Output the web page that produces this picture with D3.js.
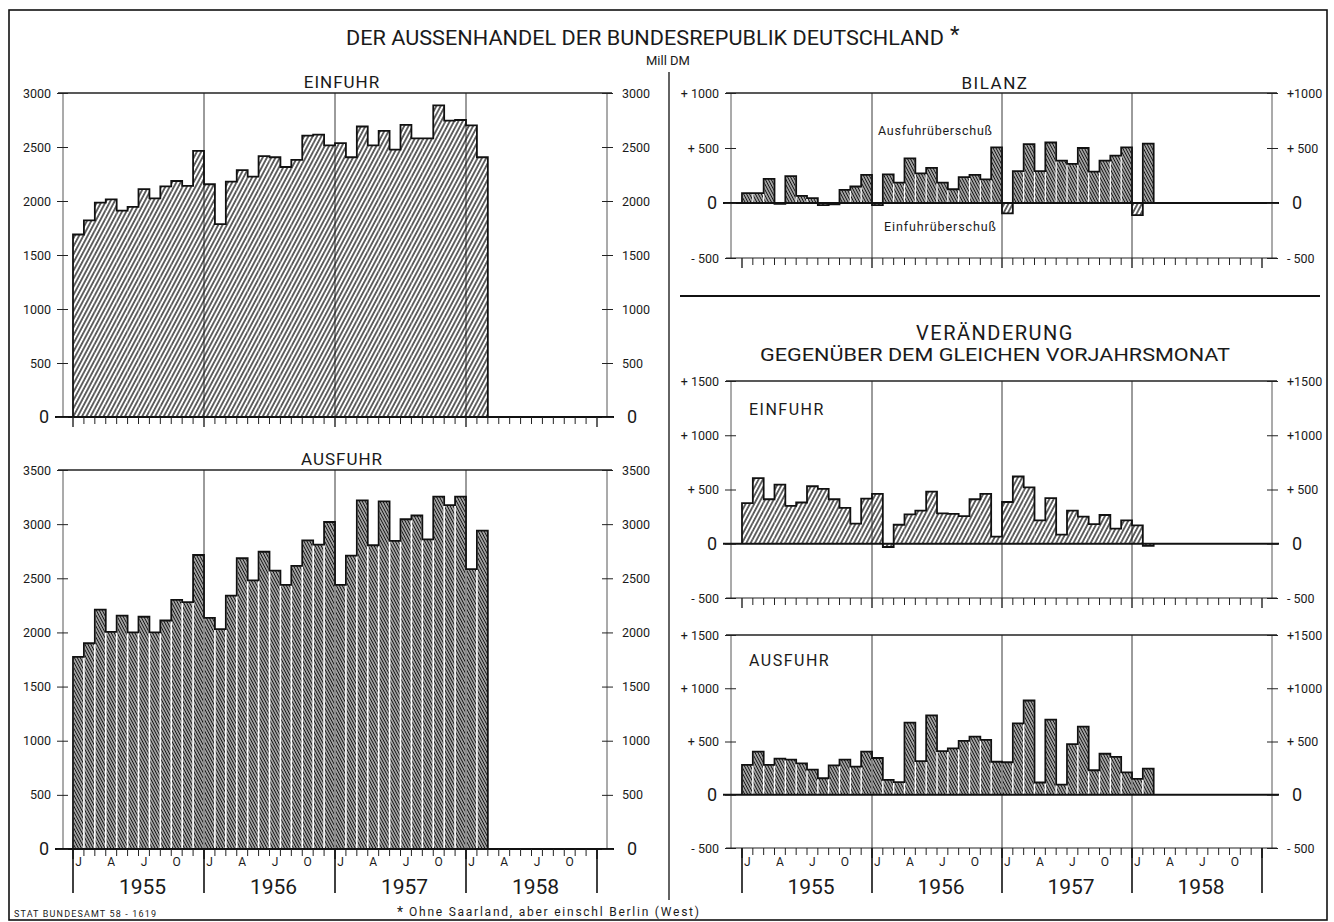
<!DOCTYPE html>
<meta charset="utf-8">
<head>
<script src="https://d3js.org/d3.v7.min.js"></script>
<style>
  body { margin: 0; background: #fff; }
  svg text { font-family: Roboto, "DejaVu Sans", sans-serif; fill: #1a1a1a; }
</style>
</head>
<body>
<svg id="chart" width="1334" height="922"></svg>
<script>
// Mill DM, monthly, Jan 1955 - Feb 1958
var years = ["1955", "1956", "1957", "1958"];
var monthLabels = ["J", "A", "J", "O"];

var einfuhr = [1690,1820,1985,2015,1910,1945,2110,2025,2135,2185,2140,2465,
               2155,1785,2180,2285,2225,2415,2405,2315,2380,2605,2615,2515,
               2535,2405,2690,2515,2650,2475,2705,2580,2580,2885,2745,2750,
               2700,2405];
var ausfuhr = [1775,1900,2210,2005,2155,2000,2145,2000,2110,2300,2280,2715,
               2135,2030,2340,2685,2480,2745,2570,2440,2615,2850,2810,3020,
               2440,2710,3220,2805,3210,2845,3045,3080,2860,3255,3175,3255,
               2585,2940];
var bilanz = [90,90,220,-8,245,65,45,-20,-12,120,150,255,
              -20,260,185,405,270,320,185,125,235,255,215,505,
              -95,290,535,290,550,385,355,500,285,385,430,505,
              -110,540];
var verEinfuhr = [375,605,410,545,350,380,530,505,410,330,185,415,
                  460,-30,175,270,305,480,280,275,255,410,460,65,
                  385,620,520,215,420,85,305,250,180,265,140,215,
                  170,-20];
var verAusfuhr = [280,405,280,340,330,295,235,155,275,330,265,405,
                  345,140,118,677,315,745,410,435,505,545,515,310,
                  305,670,885,115,705,95,475,640,230,385,355,210,
                  150,245];

var svg = d3.select("#chart");
var defs = svg.append("defs");

// hatch patterns
function hatch(id, angle, gap, w) {
  defs.append("pattern")
    .attr("id", id)
    .attr("patternUnits", "userSpaceOnUse")
    .attr("width", gap).attr("height", 10)
    .attr("patternTransform", "rotate(" + angle + ")")
    .append("line")
    .attr("x1", gap / 2).attr("x2", gap / 2)
    .attr("y1", 0).attr("y2", 10)
    .attr("stroke", "#111").attr("stroke-width", w);
}
hatch("light", 28, 3.8, 1.3);
hatch("dark", -28, 2.6, 1.55);

var fmtPlain = function(d) { return d3.format("d")(d); };
var fmtSignL = function(d) { return d > 0 ? "+ " + d : d < 0 ? "- " + (-d) : "0"; };
var fmtSignR = function(d) { return d >= 1000 ? "+" + d : d > 0 ? "+ " + d : d < 0 ? "- " + (-d) : "0"; };

function panel(o) {
  var g = svg.append("g");
  var x = d3.scaleLinear().domain([0, 48]).range([o.x0, o.x1]);
  var y = d3.scaleLinear().domain(o.domain).range([o.bottom, o.top]);
  var yb = y(o.domain[0]), yt = y(o.domain[1]), y0 = y(0);

  // year grid lines
  g.selectAll(".yr").data([12, 24, 36]).enter().append("line")
    .attr("x1", d => x(d)).attr("x2", d => x(d))
    .attr("y1", yt).attr("y2", yb)
    .attr("stroke", "#222").attr("stroke-width", 0.9);

  // left / right axis lines
  [o.axL, o.axR].forEach(function(ax) {
    g.append("line").attr("x1", ax).attr("x2", ax).attr("y1", yt).attr("y2", yb)
      .attr("stroke", "#444").attr("stroke-width", 0.9);
  });
  // top line
  g.append("line").attr("x1", o.axL - 5).attr("x2", o.axR + 5).attr("y1", yt).attr("y2", yt)
    .attr("stroke", "#222").attr("stroke-width", 1.3);
  // bottom line (if below zero)
  if (o.domain[0] < 0) {
    g.append("line").attr("x1", o.axL - 5).attr("x2", o.axR + 5).attr("y1", yb).attr("y2", yb)
      .attr("stroke", "#222").attr("stroke-width", 1.2);
  }

  // bars
  g.selectAll(".bar").data(o.values).enter().append("rect")
    .attr("x", (d, i) => x(i) + o.gap / 2)
    .attr("width", (d, i) => x(i + 1) - x(i) - o.gap)
    .attr("y", d => y(Math.max(0, d)))
    .attr("height", d => Math.abs(y(d) - y0))
    .attr("fill", d => "url(#" + o.fill(d) + ")");

  // step outline
  var pts = [[0, 0]].concat(o.values.map((d, i) => [i, d]));
  pts.push([o.values.length, o.values[o.values.length - 1]]);
  pts.push([o.values.length, 0]);
  g.append("path")
    .attr("d", d3.line().x(p => x(p[0])).y(p => y(p[1])).curve(d3.curveStepAfter)(pts))
    .attr("fill", "none").attr("stroke", "#111").attr("stroke-width", 1.8);

  // zero line
  g.append("line").attr("x1", o.axL - 8).attr("x2", o.axR + 7).attr("y1", y0).attr("y2", y0)
    .attr("stroke", "#111").attr("stroke-width", 2);

  // month ticks
  g.selectAll(".mt").data(d3.range(0, 49)).enter().append("line")
    .attr("x1", d => x(d)).attr("x2", d => x(d))
    .attr("y1", yb).attr("y2", d => d % 12 === 0 ? yb + 10 : yb + 7)
    .attr("stroke", "#222").attr("stroke-width", d => d % 12 === 0 ? 1.4 : 1);

  // value axes
  var left = g.append("g").attr("transform", "translate(" + o.axL + ",0)")
    .call(d3.axisLeft(y).tickValues(o.ticks).tickSize(6).tickPadding(6).tickFormat(o.fmtL));
  var right = g.append("g").attr("transform", "translate(" + o.axR + ",0)")
    .call(d3.axisRight(y).tickValues(o.ticks).tickSize(6).tickPadding(9).tickFormat(o.fmtR));
  [left, right].forEach(function(a, k) {
    a.select(".domain").remove();
    a.selectAll(".tick line").attr("x1", k ? -5 : 5).attr("stroke", "#222");
    a.selectAll("text").style("font-size", "12.5px").style("font-family", "Roboto, sans-serif")
      .attr("fill", "#1a1a1a");
    a.selectAll(".tick").filter(d => d === 0).select("text")
      .style("font-size", "18px").attr("x", k ? 20 : -14);
  });

  // month and year labels
  if (o.labels) {
    g.selectAll(".ys").data(d3.range(0, 49, 12)).enter().append("line")
      .attr("x1", d => x(d)).attr("x2", d => x(d))
      .attr("y1", yb).attr("y2", 893)
      .attr("stroke", "#111").attr("stroke-width", 1.6);
    var ml = [];
    years.forEach(function(yr, k) {
      monthLabels.forEach(function(m, j) { ml.push({ m: m, i: k * 12 + j * 3 }); });
    });
    g.selectAll(".ml").data(ml).enter().append("text")
      .attr("x", d => x(d.i + 0.5)).attr("y", 866)
      .attr("text-anchor", "middle").style("font-size", "12px").text(d => d.m);
    g.selectAll(".yl").data(years).enter().append("text")
      .attr("x", (d, k) => x(k * 12 + 6) + 4).attr("y", 894)
      .attr("text-anchor", "middle").style("font-size", "21px").text(d => d);
  }
  return g;
}

var L = { x0: 73, x1: 597, axL: 63, axR: 607 };
var R = { x0: 742, x1: 1262, axL: 731, axR: 1272 };

panel(Object.assign({}, L, { values: einfuhr, domain: [0, 3000], bottom: 417, top: 93,
  ticks: d3.range(0, 3001, 500), fmtL: fmtPlain, fmtR: fmtPlain, gap: 0, fill: () => "light" }));
panel(Object.assign({}, L, { values: ausfuhr, domain: [0, 3500], bottom: 849, top: 470,
  ticks: d3.range(0, 3501, 500), fmtL: fmtPlain, fmtR: fmtPlain, gap: 1.6, fill: () => "dark", labels: true }));
panel(Object.assign({}, R, { values: bilanz, domain: [-500, 1000], bottom: 258, top: 93,
  ticks: d3.range(-500, 1001, 500), fmtL: fmtSignL, fmtR: fmtSignR, gap: 1.2,
  fill: d => d >= 0 ? "dark" : "light" }));
panel(Object.assign({}, R, { values: verEinfuhr, domain: [-500, 1500], bottom: 598, top: 381,
  ticks: d3.range(-500, 1501, 500), fmtL: fmtSignL, fmtR: fmtSignR, gap: 0, fill: () => "light" }));
panel(Object.assign({}, R, { values: verAusfuhr, domain: [-500, 1500], bottom: 848, top: 635,
  ticks: d3.range(-500, 1501, 500), fmtL: fmtSignL, fmtR: fmtSignR, gap: 1.4, fill: () => "dark", labels: true }));

// frame, divider, separator
svg.append("rect").attr("x", 9).attr("y", 10).attr("width", 1318).attr("height", 910)
  .attr("fill", "none").attr("stroke", "#111").attr("stroke-width", 1.6);
svg.append("line").attr("x1", 669).attr("x2", 669).attr("y1", 72).attr("y2", 900)
  .attr("stroke", "#222").attr("stroke-width", 1.4);
svg.append("line").attr("x1", 680).attr("x2", 1320).attr("y1", 296).attr("y2", 296)
  .attr("stroke", "#111").attr("stroke-width", 1.8);

function txt(s, x, y, size, anchor, extra) {
  var t = svg.append("text").attr("x", x).attr("y", y).attr("text-anchor", anchor || "middle")
    .style("font-size", size + "px").text(s);
  if (extra) extra(t);
  return t;
}
txt("DER AUSSENHANDEL DER BUNDESREPUBLIK DEUTSCHLAND", 645, 45, 21, "middle",
  t => t.attr("textLength", 598).attr("lengthAdjust", "spacingAndGlyphs"));
txt("*", 950, 42, 22, "start");
txt("Mill DM", 668, 65, 13);
txt("EINFUHR", 342, 88, 17, "middle", t => t.style("letter-spacing", "1px"));
txt("AUSFUHR", 342, 465, 17, "middle", t => t.style("letter-spacing", "1px"));
txt("BILANZ", 995, 89, 17, "middle", t => t.style("letter-spacing", "1.5px"));
txt("Ausfuhrüberschuß", 878, 135, 12.5, "start", t => t.attr("textLength", 114));
txt("Einfuhrüberschuß", 884, 231, 12.5, "start", t => t.attr("textLength", 112));
txt("VERÄNDERUNG", 995, 340, 20, "middle", t => t.style("letter-spacing", "1.5px"));
txt("GEGENÜBER DEM GLEICHEN VORJAHRSMONAT", 995, 361, 19, "middle",
  t => t.attr("textLength", 470).attr("lengthAdjust", "spacingAndGlyphs"));
txt("EINFUHR", 749, 415, 16, "start", t => t.style("letter-spacing", "1.5px"));
txt("AUSFUHR", 749, 666, 16, "start", t => t.style("letter-spacing", "1.5px"));
txt("STAT BUNDESAMT 58 - 1619", 14, 917, 9, "start", t => t.attr("textLength", 142));
txt("*", 397, 917, 14, "start");
txt("Ohne Saarland, aber einschl Berlin (West)", 409, 916, 12, "start", t => t.attr("textLength", 290));
</script>
</body>
